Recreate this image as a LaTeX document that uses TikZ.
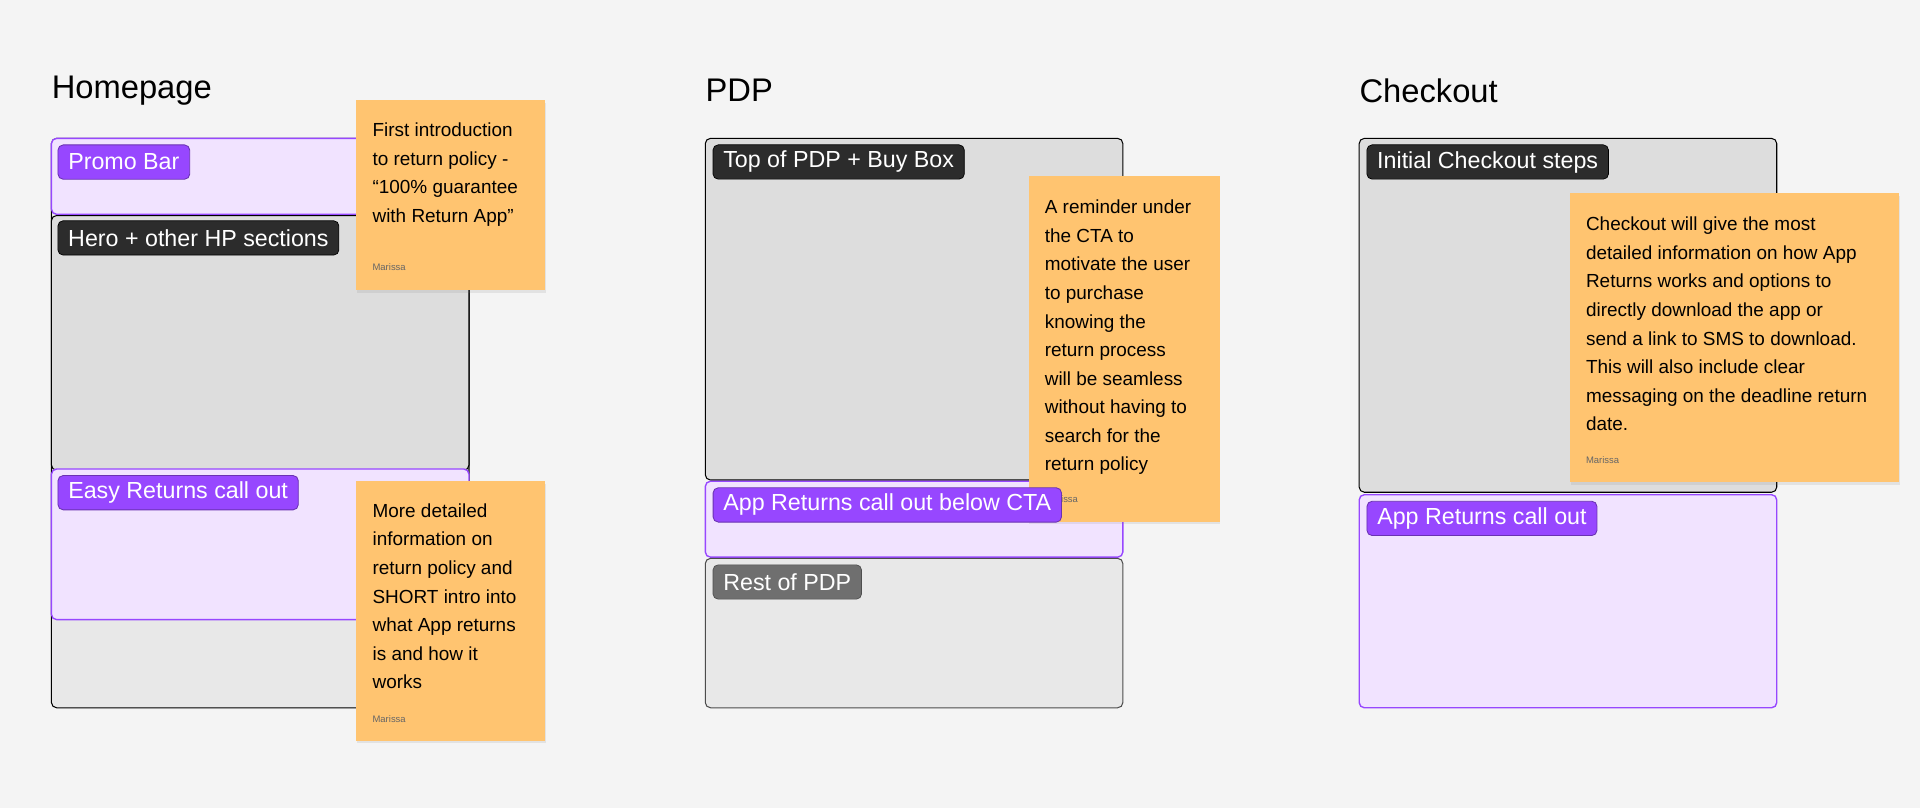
\documentclass[tikz,border=0pt]{standalone}
\usepackage{fontspec}
\setmainfont{Liberation Sans}
\usetikzlibrary{positioning,shadows}
\definecolor{bgpage}{HTML}{F4F4F4}
\definecolor{lav}{HTML}{F1E3FF}
\definecolor{purp}{HTML}{9747FF}
\definecolor{darktag}{HTML}{2C2C2C}
\definecolor{greytag}{HTML}{6F6F6F}
\definecolor{sticky}{HTML}{FFC470}
\definecolor{boxgrey}{HTML}{DDDDDD}
\definecolor{boxlight}{HTML}{E8E8E8}
\tikzset{
  section/.style={draw=black, fill=boxgrey, rounded corners=3pt, line width=0.6pt},
  callbox/.style={draw=purp, fill=lav, rounded corners=3pt, line width=0.8pt},
  tag/.style={anchor=north west, rounded corners=3pt, text=white, font=\fontsize{13.5}{15}\selectfont,
    minimum height=0.7cm, inner xsep=6pt, inner ysep=0pt},
  purptag/.style={tag, fill=purp, draw=purp!70!black, line width=0.5pt},
  darktagsty/.style={tag, fill=darktag, draw=black},
  greytagsty/.style={tag, fill=greytag, draw=greytag!70!black},
  note/.style={fill=sticky, drop shadow={shadow xshift=0.5pt, shadow yshift=-1.5pt, opacity=0.15}},
  notetext/.style={anchor=north west, align=left, inner sep=0pt, font=\fontsize{11}{16.6}\selectfont},
  signed/.style={anchor=west, inner sep=0pt, text=black!60, font=\fontsize{5.5}{6}\selectfont},
  heading/.style={anchor=west, inner sep=0pt, font=\fontsize{19}{22}\selectfont}
}
\begin{document}
\begin{tikzpicture}[x=0.025cm, y=-0.025cm]
\fill[bgpage] (0,0) rectangle (1568,660);
\useasboundingbox (0,0) rectangle (1568,660);

% Homepage
\node[heading] (hptitle) at (42,74) {Homepage};
\filldraw[section, fill=boxlight] (42,113) rectangle (383,578);
\filldraw[section] (42,176) rectangle (383,384);
\filldraw[callbox] (42,113) rectangle (383,175);
\filldraw[callbox] (42,383) rectangle (383,506);
\node[purptag] (promo) at (47,118) {Promo Bar};
\node[darktagsty] (hero) at (47,180) {Hero + other HP sections};
\node[purptag] (easy) at (47,388) {Easy Returns call out};
\fill[note] (291,82) rectangle (445,237);
\node[notetext] (n1) at (304,100) {First introduction\\to return policy -\\“100\% guarantee\\with Return App”};
\node[signed] (s1) at (304,218) {Marissa};
\fill[note] (291,393) rectangle (445,605);
\node[notetext] (n2) at (304,411) {More detailed\\information on\\return policy and\\SHORT intro into\\what App returns\\is and how it\\works};
\node[signed] (s2) at (304,587) {Marissa};

% PDP
\node[heading] (pdptitle) at (576,74) {PDP};
\filldraw[section] (576,113) rectangle (917,392);
\filldraw[callbox] (576,393) rectangle (917,455);
\filldraw[section, fill=boxlight, draw=black!70] (576,456) rectangle (917,578);
\node[darktagsty] (top) at (582,118) {Top of PDP + Buy Box};
\node[greytagsty] (rest) at (582,461) {Rest of PDP};
\fill[note] (840,144) rectangle (996,426);
\node[notetext] (n3) at (853,163) {A reminder under\\the CTA to\\motivate the user\\to purchase\\knowing the\\return process\\will be seamless\\without having to\\search for the\\return policy};
\node[signed] (s3) at (853,408) {Marissa};
\node[purptag] (appcta) at (582,398) {App Returns call out below CTA};

% Checkout
\node[heading] (cotitle) at (1110,74) {Checkout};
\filldraw[section] (1110,113) rectangle (1451,402);
\filldraw[callbox] (1110,404) rectangle (1451,578);
\node[darktagsty] (init) at (1116,118) {Initial Checkout steps};
\node[purptag] (appco) at (1116,409) {App Returns call out};
\fill[note] (1282,158) rectangle (1551,394);
\node[notetext] (n4) at (1295,177) {Checkout will give the most\\detailed information on how App\\Returns works and options to\\directly download the app or\\send a link to SMS to download.\\This will also include clear\\messaging on the deadline return\\date.};
\node[signed] (s4) at (1295,376) {Marissa};
\end{tikzpicture}
\end{document}
